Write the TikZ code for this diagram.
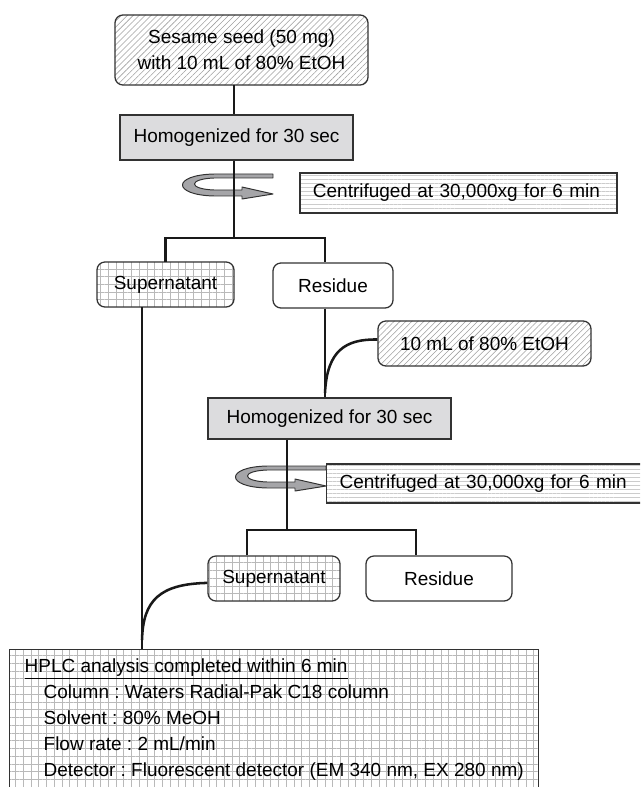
\documentclass[tikz,border=0pt]{standalone}
\usepackage{fontspec}
\setmainfont{Liberation Sans}
\usetikzlibrary{patterns.meta}

\definecolor{boxline}{RGB}{50,50,50}
\definecolor{homfill}{RGB}{220,220,222}
\definecolor{spinfill}{RGB}{165,165,168}

\tikzset{
  box/.style={draw=boxline, line width=0.9pt, inner sep=0pt, minimum height=1.125cm,
    font=\fontsize{13.5pt}{18.5pt}\selectfont\frenchspacing},
  roundbox/.style={box, rounded corners=0.2cm},
  hatchbox/.style={roundbox, pattern={Lines[angle=45,distance=3pt,line width=0.4pt]}, pattern color=gray!75},
  gridbox/.style={roundbox, pattern={Hatch[angle=0,distance=5.5pt,line width=0.4pt]}, pattern color=gray!55},
  homog/.style={box, fill=homfill},
  spinbox/.style={box, align=left, inner xsep=0.325cm, minimum height=1cm,
    pattern={Lines[angle=0,distance=2.9pt,line width=0.4pt]}, pattern color=gray!40},
  link/.style={draw=black!90, line width=1.8pt},
  spin/.style={draw=boxline, line width=0.7pt, fill=spinfill, line join=round}
}

\begin{document}
\begin{tikzpicture}[x=0.025cm, y=-0.025cm]
\useasboundingbox (0,0) rectangle (640,787);
\clip (0,0) rectangle (640,787);

% first extraction
\node[hatchbox, minimum width=6.325cm, minimum height=1.75cm, align=center] (seed) at (241.5,50)
  {Sesame seed (50 mg)\\with 10 mL of 80\% EtOH};
\node[homog, minimum width=5.825cm] (hom1) at (236.5,137.5) {Homogenized for 30 sec};
\node[spinbox, text width=7.275cm] (cent1) at (458.5,193) {Centrifuged at 30,000xg for 6 min};
\node[gridbox, minimum width=3.425cm] (sup1) at (165.5,284.5) {Supernatant};
\node[roundbox, minimum width=3.0cm] (res1) at (333,285.5) {Residue};

% second extraction
\node[hatchbox, minimum width=5.325cm] (etoh) at (484.5,343.5) {10 mL of 80\% EtOH};
\node[homog, minimum width=6.075cm, minimum height=1.025cm] (hom2) at (329.5,418.5) {Homogenized for 30 sec};
\node[spinbox, anchor=west, text width=7.6cm, minimum height=0.975cm] (cent2) at (326,483.5)
  {Centrifuged at 30,000xg for 6 min};
\node[gridbox, minimum width=3.3cm] (sup2) at (274,578.5) {Supernatant};
\node[roundbox, minimum width=3.65cm] (res2) at (439,578.5) {Residue};

% analysis
\node[box, anchor=north west, align=left, minimum width=13.225cm, minimum height=3.5cm,
  inner xsep=0.3cm, inner ysep=0.15cm,
  pattern={Hatch[angle=0,distance=5.5pt,line width=0.4pt]}, pattern color=gray!55] (hplc) at (9,649)
  {\underline{HPLC analysis completed within 6 min}\\
   \hspace*{0.475cm}Column : Waters Radial-Pak C18 column\\
   \hspace*{0.475cm}Solvent : 80\% MeOH\\
   \hspace*{0.475cm}Flow rate : 2 mL/min\\
   \hspace*{0.475cm}Detector : Fluorescent detector (EM 340 nm, EX 280 nm)};

% trunks and branches
\coordinate (ta) at (234,0);
\coordinate (tb) at (287,0);
\coordinate (sa) at (142,0);
\coordinate (ra) at (325,0);
\coordinate (sb) at (247,0);
\coordinate (rb) at (416,0);
\coordinate (b1) at (0,238);
\coordinate (b2) at (0,530);
\coordinate (m1) at (325,393);
\coordinate (m2) at (142,640);

% spinning arrows
\foreach \cx/\cy in {234/185, 287/477}{
  \filldraw[spin, shift={(\cx,\cy)}] (39,-11) -- (-20,-11) .. controls (-62,-10) and (-62,10) .. (-20,11)
    -- (8,11) -- (8,14) -- (39,9) -- (8,2) -- (8,5) -- (-20,5)
    .. controls (-46,4) and (-46,-6) .. (-20,-7) -- (39,-7) -- cycle;
}

\draw[link] (seed.south -| ta) -- (hom1.north -| ta);
\draw[link] (hom1.south -| ta) -- (ta |- b1);
\draw[link] (sup1.north) |- (b1 -| ra) -- (res1.north -| ra);
\draw[link] (sup1.south -| sa) -- (hplc.north -| sa);
\draw[link] (res1.south -| ra) -- (hom2.north -| ra);
\draw[link] ([yshift=0.1cm]etoh.west) .. controls (346,339) and (327,350) .. (m1);
\draw[link] (hom2.south -| tb) -- (tb |- b2);
\draw[link] (sup2.north -| sb) |- (b2 -| rb) -- (res2.north -| rb);
\draw[link] ([yshift=-0.11cm]sup2.west) .. controls (160,584) and (143,600) .. (m2);
\end{tikzpicture}
\end{document}
